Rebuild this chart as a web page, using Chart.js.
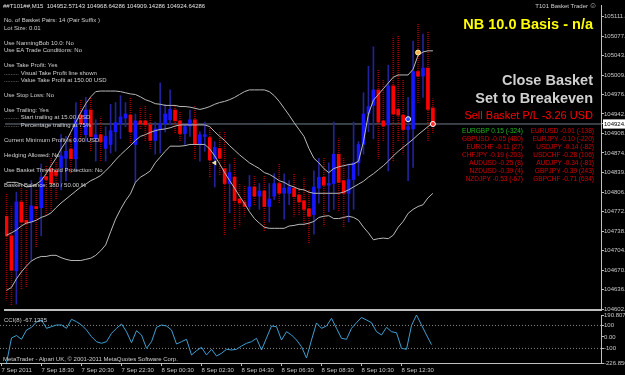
<!DOCTYPE html>
<html lang="en">
<head>
<meta charset="UTF-8">
<title>T101 Basket Trader</title>
<script src="https://cdn.jsdelivr.net/npm/chart.js"></script>
<style>
  html, body { margin: 0; padding: 0; background: #000; }
  #wrap { position: relative; width: 625px; height: 375px; overflow: hidden; background: #000;
          font-family: 'Liberation Sans', Arial, sans-serif; }
  canvas { position: absolute; left: 0; }
  #mainChart { top: 0; }
  #cciChart { top: 313px; }
  .t { position: absolute; left: 4px; white-space: pre; font-size: 6px; line-height: 7px; color: #cfcfcf; }
  .pair { position: absolute; white-space: pre; font-size: 6.5px; line-height: 8px; color: #d40000; text-align: right; }
  .big { position: absolute; right: 32px; white-space: pre; font-weight: bold; font-size: 14.5px; line-height: 16px; color: #d0d0d0; }
</style>
</head>
<body>
<div id="wrap">
  <canvas id="mainChart" width="625" height="315"></canvas>
  <canvas id="cciChart" width="625" height="62"></canvas>

  <!-- EA info panel -->
  <div class="t" style="left:3px; top:2.5px; color:#e0e0e0">##T101##,M15  104952.57143 104968.64286 104909.14286 104924.64286</div>
  <div class="t" style="top:16.5px">No. of Basket Pairs: 14 (Pair Suffix )</div>
  <div class="t" style="top:24.5px">Lot Size: 0.01</div>
  <div class="t" style="top:39.5px">Use NanningBob 10.0: No</div>
  <div class="t" style="top:47px">Use EA Trade Conditions: No</div>
  <div class="t" style="top:61.5px">Use Take Profit: Yes</div>
  <div class="t" style="top:69.5px">......... Visual Take Profit line shown</div>
  <div class="t" style="top:76.5px">......... Value Take Profit at 150.00 USD</div>
  <div class="t" style="top:91.5px">Use Stop Loss: No</div>
  <div class="t" style="top:106.5px">Use Trailing: Yes</div>
  <div class="t" style="top:113.5px">......... Start trailing at 15.00 USD</div>
  <div class="t" style="top:121.5px">......... Percentage trailing at 75%</div>
  <div class="t" style="top:136.5px">Current Minimum Profit is 0.00 USD</div>
  <div class="t" style="top:151.5px">Hedging Allowed: No</div>
  <div class="t" style="top:166.5px">Use Basket Threshold Protection: No</div>
  <div class="t" style="top:181.5px">Basket Balance: 380 / 50.00 %</div>

  <div class="t" style="left:auto; right:37px; top:2.5px">T101 Basket Trader</div>
  <div class="t" style="left:589px; top:1px; font-size:8px; line-height:9px; color:#bdbdbd">☺</div>

  <div class="big" style="top:16px; color:#ffff00">NB 10.0 Basis - n/a</div>
  <div class="big" style="top:72px">Close Basket</div>
  <div class="big" style="top:90px">Set to Breakeven</div>
  <div class="big" style="top:109px; font-weight:normal; font-size:11px; line-height:12px; color:#ff0000">Sell Basket P/L -3.26 USD</div>

  <!-- pair results -->
  <div class="pair" style="right:102px; top:126.5px"><span style="color:#1fb51f">EURGBP 0.15 (-324)</span>
GBPUSD -0.05 (480)
EURCHF -0.11 (27)
CHFJPY -0.19 (-203)
AUDUSD -0.25 (8)
NZDUSD -0.39 (4)
NZDJPY -0.53 (-67)</div>
  <div class="pair" style="right:31px; top:126.5px">EURUSD -0.01 (-138)
EURJPY -0.10 (-220)
USDJPY -0.14 (-82)
USDCHF -0.28 (106)
AUDJPY -0.34 (-81)
GBPJPY -0.39 (243)
GBPCHF -0.71 (634)</div>

  <div class="t" style="top:317px">CCI(8) -67.1335</div>
  <div class="t" style="left:3px; top:355.5px">MetaTrader - Alpari UK, © 2001-2011 MetaQuotes Software Corp.</div>
</div>

<script>
// M15 bars, 7 Sep 2011 16:30 -> 8 Sep 2011 14:00
const openP = [104764,104730,104669,104789,104757,104754,104781,104779,104833,104847,
  104843,104849,104865,104881,104864,104940,104906,104949,104899,104906,
  104882,104889,104911,104925,104935,104940,104889,104930,104930,104923,
  104896,104915,104925,104932,104949,104930,104908,104921,104932,104889,
  104903,104901,104864,104882,104847,104821,104832,104794,104789,104781,
  104815,104799,104808,104781,104799,104821,104804,104804,104813,104801,
  104791,104777,104767,104813,104832,104818,104821,104872,104826,104804,
  104828,104857,104889,104942,104957,104984,104930,104923,104991,104950,
  104940,104915,104916,105016,105008,105022,104952.57];
const highP = [104804,104781,104806,104813,104810,104826,104810,104855,104852,104865,
  104860,104906,104903,104906,104962,104967,104971,104971,104932,104937,
  104920,104959,104962,104974,104962,104971,104942,104954,104957,104942,
  104928,104996,104959,104984,104957,104945,104925,104949,104957,104911,
  104928,104920,104894,104911,104911,104855,104865,104821,104818,104835,
  104835,104821,104835,104821,104838,104855,104838,104826,104838,104815,
  104832,104810,104843,104865,104865,104857,104928,104899,104865,104855,
  104928,104894,104979,105025,105059,105018,105001,105027,105076,105078,
  105001,104971,105069,105098,105081,105086,104968.64];
const lowP = [104618,104609,104611,104636,104640,104687,104711,104730,104767,104772,
  104793,104810,104826,104838,104843,104894,104894,104877,104860,104860,
  104860,104874,104877,104899,104920,104891,104823,104916,104894,104882,
  104872,104874,104911,104923,104908,104894,104889,104903,104864,104860,
  104877,104832,104815,104835,104730,104770,104742,104747,104764,104776,
  104784,104776,104737,104754,104793,104787,104759,104784,104764,104767,
  104747,104716,104733,104787,104747,104772,104776,104772,104745,104754,
  104776,104835,104872,104911,104899,104865,104894,104843,104860,104894,
  104872,104826,104849,104962,104971,104894,104909.14];
const closeP = [104730,104670,104789,104754,104752,104782,104777,104832,104828,104821,
  104835,104869,104877,104864,104932,104925,104949,104903,104906,104894,
  104903,104913,104927,104937,104942,104911,104930,104925,104923,104896,
  104916,104925,104942,104950,104930,104908,104920,104932,104889,104906,
  104906,104862,104884,104865,104821,104840,104791,104787,104781,104815,
  104799,104808,104781,104794,104821,104804,104813,104815,104798,104789,
  104776,104764,104815,104832,104818,104821,104872,104823,104804,104828,
  104857,104889,104942,104955,104984,104928,104921,104991,104942,104940,
  104915,104920,105016,105008,105022,104950,104924.64];

// band lines
const bbUpper = [104823,104823,104823,104820,104815,104816,104820,104826,104838,104852,
  104865,104881,104894,104911,104928,104945,104960,104972,104981,104982,
  104982,104982,104982,104981,104979,104977,104976,104972,104967,104964,
  104960,104959,104957,104957,104957,104955,104955,104954,104952,104950,
  104952,104955,104959,104962,104964,104967,104971,104976,104981,104984,
  104984,104984,104984,104981,104974,104964,104952,104940,104927,104915,
  104903,104882,104865,104857,104847,104840,104847,104850,104852,104854,
  104855,104860,104894,104942,104966,104976,104986,104996,105006,105010,
  105010,105010,105020,105044,105050,105052,105052];
const bbMiddle = [104731,104735,104740,104747,104752,104754,104757,104762,104765,104770,
  104779,104787,104794,104801,104808,104815,104820,104826,104830,104835,
  104843,104852,104862,104871,104879,104887,104896,104903,104906,104910,
  104913,104915,104916,104918,104921,104923,104923,104923,104923,104923,
  104923,104920,104911,104903,104896,104887,104879,104871,104864,104857,
  104852,104847,104840,104837,104832,104826,104823,104818,104815,104811,
  104810,104806,104804,104804,104804,104804,104804,104804,104806,104810,
  104815,104820,104825,104832,104838,104845,104852,104860,104869,104877,
  104884,104891,104898,104906,104913,104920,104927];
const bbLower = [104635,104640,104655,104667,104677,104686,104691,104694,104694,104696,
  104696,104692,104689,104687,104687,104687,104689,104691,104696,104704,
  104714,104737,104759,104776,104791,104803,104823,104832,104837,104843,
  104857,104867,104877,104886,104886,104886,104887,104889,104889,104889,
  104889,104881,104869,104855,104840,104826,104813,104799,104786,104772,
  104760,104752,104745,104743,104743,104743,104743,104747,104748,104750,
  104750,104752,104755,104762,104764,104765,104760,104760,104762,104764,
  104762,104757,104745,104735,104723,104725,104726,104725,104731,104745,
  104755,104769,104776,104781,104784,104796,104804];

// CCI(8)
const cci = [null,-226.8,-9.3,12.4,-20.6,60.3,83.8,129.9,147.3,75.1,
  89.0,103.8,103.8,75.1,153.4,132.5,103.8,60.3,2.0,-41.5,
  -55.4,-41.5,31.6,75.1,112.5,45.5,-50.2,54.2,16.8,-98.9,
  -41.5,83.8,103.8,95.1,60.3,-61.5,-41.5,-20.6,-157.2,-119.8,
  -90.2,-157.2,-107.6,-165.9,-142.4,-107.6,-113.7,-107.6,-78.9,-55.4,
  -41.5,-11.9,-113.7,-9.3,95.1,89.0,-26.7,45.5,16.8,-26.7,
  -85.0,-183.3,-26.7,121.2,75.1,95.1,162.1,75.1,-11.9,-20.6,
  75.1,123.8,169.0,147.3,123.8,45.5,16.8,83.8,45.5,36.8,
  -98.9,-107.6,99.4,190.81,103.8,16.8,-67.13];
const cciLevels = [100, -100];

// signal arrows on the chart
const signalBars = [42, 81, 83, 86];
const signalPrices = [104857, 104933, 105049, 104924.64];

// axes
const priceTicks = [105111.43,105077.50,105043.57,105009.64,104976.00,104942.07,104908.14,104874.21,
  104839.93,104806.00,104772.07,104738.14,104704.21,104670.28,104636.35,104602.42];
const cciTicks = [190.8072, 100, 0, -100, -226.856];
const cciTickLabels = ['190.8072', '100', '0.00', '-100', '-226.856'];
const timeTickBars = [0, 8, 16, 24, 32, 40, 48, 56, 64, 72, 80];
const timeTickLabels = ['7 Sep 2011', '7 Sep 18:30', '7 Sep 20:30', '7 Sep 22:30', '8 Sep 00:30',
  '8 Sep 02:30', '8 Sep 04:30', '8 Sep 06:30', '8 Sep 08:30', '8 Sep 10:30', '8 Sep 12:30'];

const lastClose = closeP[closeP.length - 1];

Chart.defaults.font.family = "'Liberation Sans', Arial, sans-serif";
Chart.defaults.color = '#c8c8c8';

const AXIS = '#c0c0c0';
const X_MIN = -0.3, X_MAX = 119.9; // 5px per bar, chart shifted left

function fixWidth(w) { return s => { s.width = w; s.paddingTop = 0; s.paddingBottom = 0; }; }
function fixHeight(h) { return s => { s.height = h; s.paddingLeft = 0; s.paddingRight = 0; }; }

window.onload = function () {
  const ctx = document.getElementById('mainChart').getContext('2d');

  // dotted wick for bearish bars
  const pc = document.createElement('canvas');
  pc.width = 1; pc.height = 2;
  const pg = pc.getContext('2d');
  pg.fillStyle = '#a00000';
  pg.fillRect(0, 0, 1, 1);
  const dotRed = ctx.createPattern(pc, 'repeat');

  const idx = openP.map((_, i) => i);
  const up = idx.map(i => closeP[i] >= openP[i]);

  const asLine = arr => arr.map((v, i) => ({ x: i, y: v }));

  const bandStyle = {
    type: 'line', borderColor: '#b9b9b9', borderWidth: 1, pointRadius: 0, tension: 0, order: 3
  };

  new Chart(ctx, {
    type: 'bar',
    data: {
      datasets: [
        {
          type: 'line', data: [{ x: X_MIN, y: lastClose }, { x: X_MAX, y: lastClose }],
          borderColor: '#6f7d8c', borderWidth: 1, pointRadius: 0, order: 6
        },
        {
          data: idx.map(i => ({ x: i, y: [lowP[i], highP[i]] })),
          backgroundColor: idx.map(i => up[i] ? '#22229a' : dotRed),
          barThickness: 1, grouped: false, order: 5
        },
        {
          data: idx.map(i => ({ x: i, y: [openP[i], closeP[i]] })),
          backgroundColor: idx.map(i => up[i] ? '#1616ff' : '#ff0000'),
          barThickness: 3, minBarLength: 1, grouped: false, order: 4
        },
        Object.assign({ data: asLine(bbUpper) }, bandStyle),
        Object.assign({ data: asLine(bbMiddle) }, bandStyle),
        Object.assign({ data: asLine(bbLower) }, bandStyle),
        {
          type: 'line', showLine: false, order: 1,
          data: signalBars.map((b, k) => ({ x: b, y: signalPrices[k] })),
          pointStyle: ['triangle', 'circle', 'circle', 'circle'],
          rotation: [270, 0, 0, 0],
          pointRadius: [3, 2.5, 2.5, 2.5],
          pointBackgroundColor: ['#f3e3b0', '#2f4dff', '#ffb347', '#ff2a2a'],
          pointBorderColor: ['#f3e3b0', '#ffffff', '#fff0a0', '#ffffff'],
          pointBorderWidth: [0, 1, 1, 1]
        }
      ]
    },
    options: {
      responsive: false,
      animation: false,
      devicePixelRatio: 1,
      layout: { padding: 0 },
      plugins: { legend: { display: false }, tooltip: { enabled: false } },
      scales: {
        x: {
          type: 'linear', min: X_MIN, max: X_MAX, offset: false,
          ticks: { display: false },
          grid: { display: false, drawTicks: false },
          border: { display: true, color: '#bdbdbd', width: 2 },
          afterFit: fixHeight(2)
        },
        y: {
          position: 'right', min: 104600.8, max: 105131.8, bounds: 'data',
          afterBuildTicks: s => { s.ticks = priceTicks.concat([lastClose]).map(v => ({ value: v })); },
          afterFit: fixWidth(24),
          grid: { drawOnChartArea: false, drawTicks: true, tickLength: 3, color: AXIS },
          border: { display: true, color: AXIS, width: 1 },
          ticks: {
            autoSkip: false, padding: 0, font: { size: 6 },
            callback: v => v.toFixed(2),
            color: c => c.tick && c.tick.value === lastClose ? '#000000' : '#c8c8c8',
            showLabelBackdrop: true,
            backdropColor: c => c.tick && c.tick.value === lastClose ? '#ffffff' : 'rgba(0,0,0,0)',
            backdropPadding: { left: 1, right: 6, top: 1, bottom: 1 }
          }
        }
      }
    }
  });

  // CCI window
  const cctx = document.getElementById('cciChart').getContext('2d');
  new Chart(cctx, {
    type: 'line',
    data: {
      datasets: [
        {
          data: asLine(cci), borderColor: '#3f9fd2', borderWidth: 1, pointRadius: 0, tension: 0
        },
        ...cciLevels.map(l => ({
          data: [{ x: X_MIN, y: l }, { x: X_MAX, y: l }],
          borderColor: '#8a8a8a', borderWidth: 1, borderDash: [1, 2], pointRadius: 0
        }))
      ]
    },
    options: {
      responsive: false,
      animation: false,
      devicePixelRatio: 1,
      layout: { padding: { top: 2, left: 0, right: 0, bottom: 0 } },
      plugins: { legend: { display: false }, tooltip: { enabled: false } },
      scales: {
        x: {
          type: 'linear', min: X_MIN, max: X_MAX,
          afterBuildTicks: s => { s.ticks = timeTickBars.map(v => ({ value: v })); },
          afterFit: fixHeight(12),
          grid: { drawOnChartArea: false, drawTicks: true, tickLength: 3, color: AXIS },
          border: { display: true, color: AXIS, width: 1 },
          ticks: {
            autoSkip: false, maxRotation: 0, minRotation: 0, align: 'start', padding: 1,
            font: { size: 6 }, color: '#c8c8c8',
            callback: v => timeTickLabels[timeTickBars.indexOf(v)]
          }
        },
        y: {
          position: 'right', min: -226.856, max: 190.8072, bounds: 'data',
          afterBuildTicks: s => { s.ticks = cciTicks.map(v => ({ value: v })); },
          afterFit: fixWidth(24),
          grid: { drawOnChartArea: false, drawTicks: true, tickLength: 3, color: AXIS },
          border: { display: true, color: AXIS, width: 1 },
          ticks: {
            autoSkip: false, padding: 0, font: { size: 6 }, color: '#c8c8c8',
            callback: v => cciTickLabels[cciTicks.indexOf(v)]
          }
        }
      }
    }
  });
};
</script>
</body>
</html>
